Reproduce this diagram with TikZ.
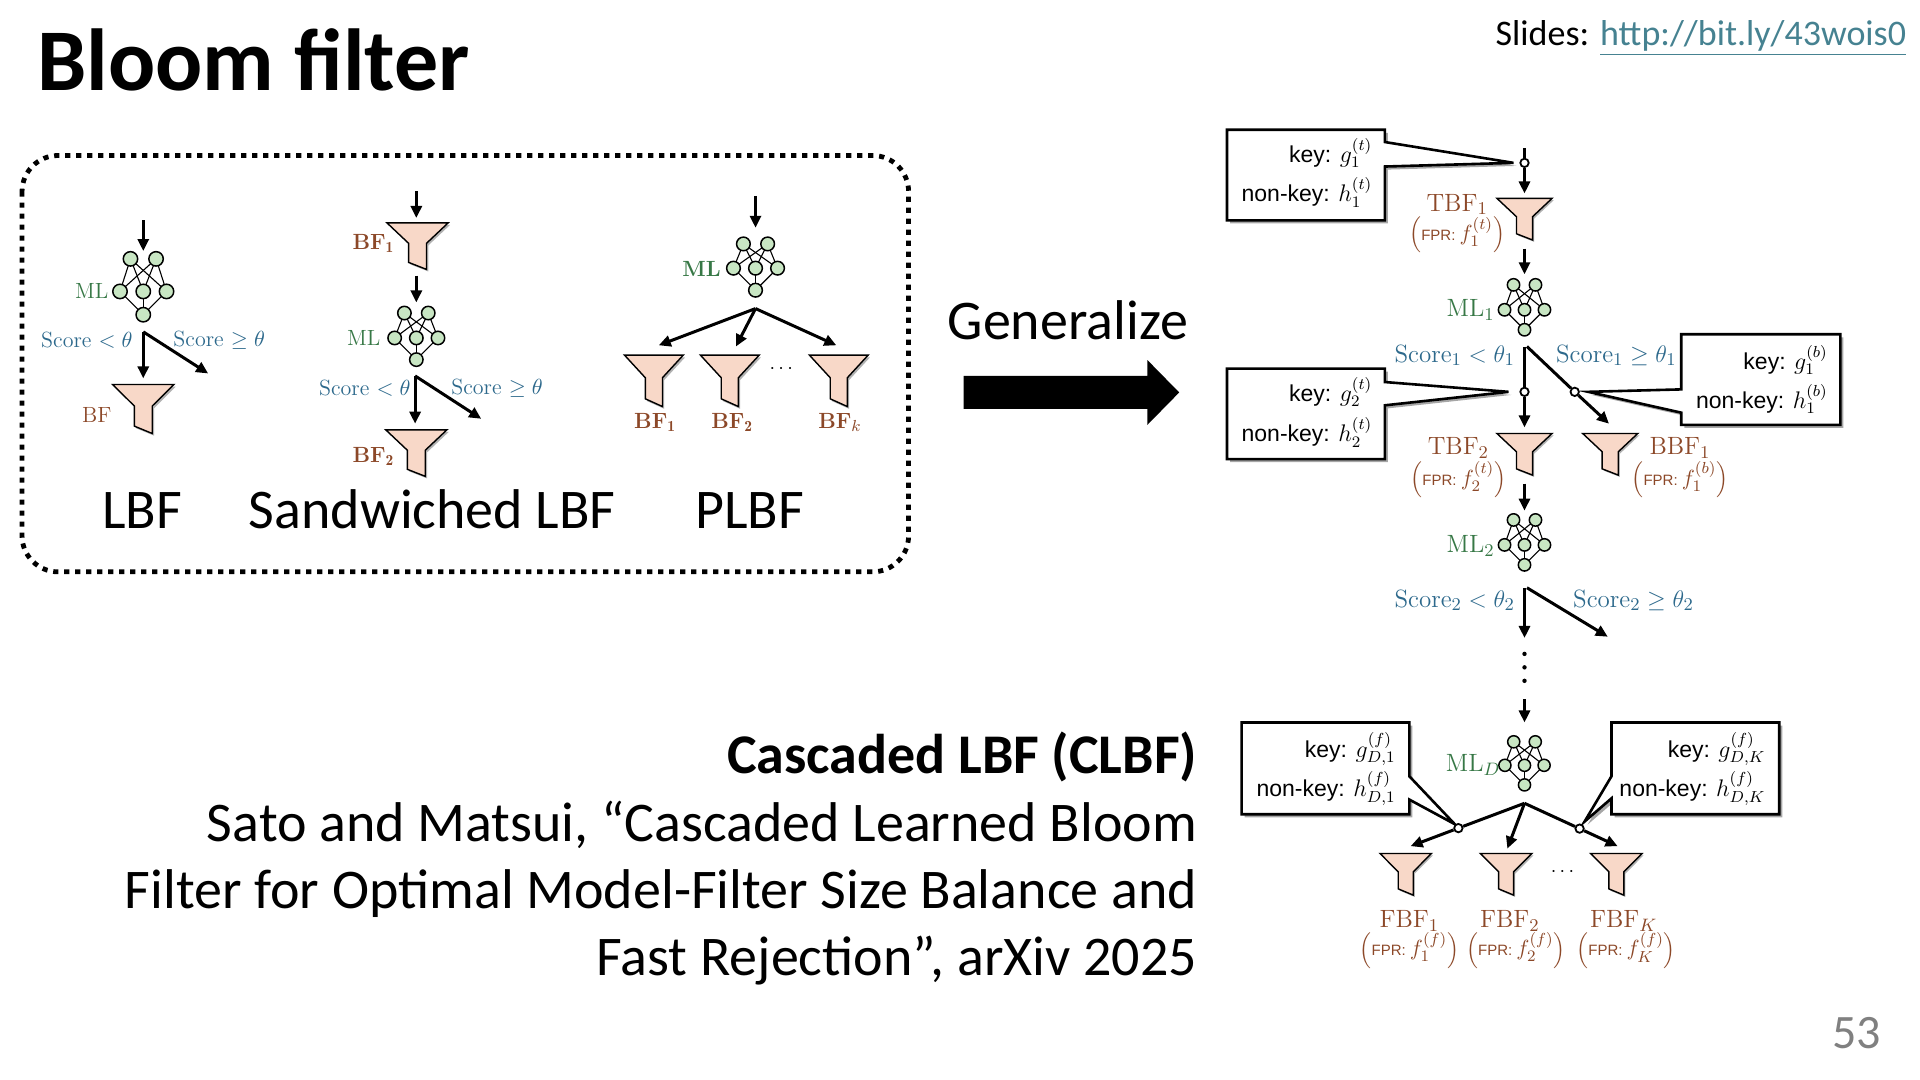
\documentclass[tikz,border=0pt]{standalone}
\usepackage{fontspec}
\newfontfamily\slidefont{Carlito}
\newfontfamily\arialfont{Liberation Sans}
\usetikzlibrary{arrows.meta}
\definecolor{mlgreen}{RGB}{55,120,70}
\definecolor{scoreblue}{RGB}{45,105,140}
\definecolor{bfbrown}{RGB}{140,72,40}
\definecolor{funnelfill}{RGB}{248,216,200}
\definecolor{nnfill}{RGB}{200,230,195}
\definecolor{linkcol}{RGB}{70,130,145}
\definecolor{pagegray}{RGB}{128,128,128}
\newcommand\fpr[1]{$\Bigl(\mbox{\arialfont\fontsize{7.5}{8}\selectfont FPR: }#1\Bigr)$}
\newcommand\drawcallout[1]{\path[cshadow,shift={(2.5,2.5)}] #1; \path[cbox] #1;}
\begin{document}
\begin{tikzpicture}[x=0.61224pt,y=-0.61224pt,
  every node/.style={inner sep=0pt},
  line/.style={line width=1.5pt},
  arr/.style={line width=1.5pt,-{Triangle[length=6pt,width=5.5pt]}},
  nnline/.style={line width=0.55pt},
  nncirc/.style={fill=nnfill,draw=black,line width=0.75pt},
  funnelst/.style={fill=funnelfill,draw=black,line width=0.7pt,line join=miter},
  cshadow/.style={fill=black!35},
  cbox/.style={fill=white,draw=black,line width=1.3pt,line join=miter},
  pcirc/.style={circle,draw=black,fill=white,line width=0.9pt,minimum size=4.2pt},
  mllab/.style={text=mlgreen,font=\fontsize{11}{13}\selectfont},
  mllabB/.style={text=mlgreen,font=\bfseries\fontsize{11}{13}\selectfont},
  sclab/.style={text=scoreblue,font=\fontsize{11}{13}\selectfont},
  bflab/.style={text=bfbrown,font=\fontsize{11}{13}\selectfont},
  bflabB/.style={text=bfbrown,font=\bfseries\fontsize{11}{13}\selectfont},
  mlR/.style={text=mlgreen,font=\fontsize{12.5}{14}\selectfont},
  scR/.style={text=scoreblue,font=\fontsize{12.5}{14}\selectfont},
  bfR/.style={text=bfbrown,font=\fontsize{12.5}{14}\selectfont},
  fprR/.style={text=bfbrown,font=\fontsize{11}{13}\selectfont},
  ctxt/.style={anchor=east,font=\arialfont\fontsize{11.5}{13}\selectfont},
  big/.style={font=\slidefont\fontsize{28}{34}\selectfont},
  pics/nn/.style args={#1/#2}{code={
    \foreach \tx in {-0.55,0.55}{\foreach \mx in {-1,0,1}{\draw[nnline] (\tx*#1,-#2*#1) -- (\mx*#1,0);}}
    \foreach \mx in {-1,0,1}{\draw[nnline] (\mx*#1,0) -- (0,#1);}
    \foreach \tx in {-0.55,0.55}{\draw[nncirc] (\tx*#1,-#2*#1) circle[radius=0.31*#1];}
    \foreach \mx in {-1,0,1}{\draw[nncirc] (\mx*#1,0) circle[radius=0.31*#1];}
    \draw[nncirc] (0,#1) circle[radius=0.31*#1];
  }},
  pics/funnel/.style={code={
    \fill[black!30] (-23.5,1.8) -- (26.5,1.8) -- (8.8,19.4) -- (8.8,41.8) -- (-5.8,35.8) -- (-5.8,19.4) -- cycle;
    \draw[funnelst] (-25,0) -- (25,0) -- (7.3,17.6) -- (7.3,40) -- (-7.3,34) -- (-7.3,17.6) -- cycle;
  }}
]
\useasboundingbox (0,0) rectangle (1568,882);

% ---------------- slide texts ----------------
\node[anchor=base west,font=\slidefont\bfseries\fontsize{44}{53}\selectfont] (title) at (30,74) {Bloom filter};
\node[anchor=base east,font=\slidefont\fontsize{18}{22}\selectfont] (slides) at (1557,37) {Slides: {\color{linkcol}\underline{http://bit.ly/43wois0}}};
\node[anchor=base,big] (gen) at (872,277) {Generalize};
\node[anchor=base east,font=\slidefont\bfseries\fontsize{28}{34}\selectfont] (clbf) at (978,632) {Cascaded LBF (CLBF)};
\node[anchor=base east,big] (ref1) at (978,687) {Sato and Matsui, “Cascaded Learned Bloom};
\node[anchor=base east,big] (ref2) at (978,742) {Filter for Optimal Model-Filter Size Balance and};
\node[anchor=base east,big] (ref3) at (978,797) {Fast Rejection”, arXiv 2025};
\node[anchor=base,text=pagegray,font=\slidefont\fontsize{24}{28}\selectfont] (pnum) at (1516,856) {53};

% big arrow
\fill[black] (787,307) -- (937,307) -- (937,294) -- (963,320.5) -- (937,347) -- (937,334) -- (787,334) -- cycle;

% dotted frame
\draw[line width=2.4pt,dash pattern=on 2.6pt off 2.9pt,rounded corners=18pt] (18,127) rectangle (742,467);

% ---------------- LBF ----------------
\coordinate (lA) at (117,180);
\coordinate (lB) at (117,205);
\draw[arr] (lA) -- (lB);
\pic at (117,238) {nn=19/1.4};
\node[mllab] (lml) at (75,238) {ML};
\node[sclab] (ls1) at (71,278) {Score $<\theta$};
\node[sclab] (ls2) at (179,278) {Score $\geq\theta$};
\coordinate (lap) at (117,271);
\coordinate (lv) at (117,309);
\coordinate (ld) at (170,305);
\draw[arr] (lap) -- (lv);
\draw[arr] (lap) -- (ld);
\pic at (117,314) {funnel};
\node[bflab] (lbf) at (79,339) {BF};
\node[anchor=base,big] (lbft) at (116,432) {LBF};

% ---------------- Sandwiched LBF ----------------
\coordinate (sA) at (340,156);
\coordinate (sB) at (340,178);
\draw[arr] (sA) -- (sB);
\pic[yscale=0.95] at (341,182) {funnel};
\node[bflabB] (sbf1) at (305,199) {BF$_{\mathbf 1}$};
\coordinate (sC) at (340,225);
\coordinate (sD) at (340,247);
\draw[arr] (sC) -- (sD);
\pic at (340,276) {nn=17.7/1.15};
\node[mllab] (sml) at (297,276) {ML};
\node[sclab] (ss1) at (298,317) {Score $<\theta$};
\node[sclab] (ss2) at (406,317) {Score $\geq\theta$};
\coordinate (sap) at (339,307);
\coordinate (sv) at (339,346);
\coordinate (sd) at (393,342);
\draw[arr] (sap) -- (sv);
\draw[arr] (sap) -- (sd);
\pic[yscale=0.95] at (340,351) {funnel};
\node[bflabB] (sbf2) at (305,373) {BF$_{\mathbf 2}$};
\node[anchor=base,big] (sbft) at (353,432) {Sandwiched LBF};

% ---------------- PLBF ----------------
\coordinate (pA) at (617,160);
\coordinate (pB) at (617,186);
\draw[arr] (pA) -- (pB);
\pic at (617,219) {nn=18/1.1};
\node[mllabB] (pml) at (573,220) {ML};
\coordinate (pap) at (617,252);
\coordinate (p1) at (538,282);
\coordinate (p2) at (601,283);
\coordinate (p3) at (683,282);
\draw[arr] (pap) -- (p1);
\draw[arr] (pap) -- (p2);
\draw[arr] (pap) -- (p3);
\pic[xscale=0.96,yscale=1.05] at (534,290) {funnel};
\pic[xscale=0.96,yscale=1.05] at (596,290) {funnel};
\pic[xscale=0.96,yscale=1.05] at (685,290) {funnel};
\node (pdots) at (638,301) {$\cdots$};
\node[bflabB] (pbf1) at (535,345) {BF$_{\mathbf 1}$};
\node[bflabB] (pbf2) at (598,345) {BF$_{\mathbf 2}$};
\node[bflabB] (pbfk) at (686,345) {BF$_{k}$};
\node[anchor=base,big] (plbft) at (612,432) {PLBF};

% ---------------- CLBF diagram ----------------
% callouts
\drawcallout{(1002,106) -- (1131,106) -- (1131,116) -- (1236,133) -- (1131,136) -- (1131,180) -- (1002,180) -- cycle}
\node[ctxt] (k1) at (1121,125) {key: $g_1^{(t)}$};
\node[ctxt] (n1) at (1121,157) {non-key: $h_1^{(t)}$};
\drawcallout{(1002,301) -- (1131,301) -- (1131,312) -- (1232,320) -- (1131,331) -- (1131,375) -- (1002,375) -- cycle}
\node[ctxt] (k2) at (1121,320) {key: $g_2^{(t)}$};
\node[ctxt] (n2) at (1121,353) {non-key: $h_2^{(t)}$};
\drawcallout{(1373,273) -- (1503,273) -- (1503,347) -- (1373,347) -- (1373,337) -- (1297,320) -- (1373,318) -- cycle}
\node[ctxt] (k3) at (1493,294) {key: $g_1^{(b)}$};
\node[ctxt] (n3) at (1493,326) {non-key: $h_1^{(b)}$};
\drawcallout{(1014,590) -- (1151,590) -- (1151,634) -- (1188,673) -- (1151,653) -- (1151,665) -- (1014,665) -- cycle}
\node[ctxt] (k4) at (1140,612) {key: $g_{D,1}^{(f)}$};
\node[ctxt] (n4) at (1140,644) {non-key: $h_{D,1}^{(f)}$};
\drawcallout{(1316,590) -- (1453,590) -- (1453,665) -- (1316,665) -- (1316,652) -- (1294,671) -- (1316,634) -- cycle}
\node[ctxt] (k5) at (1442,612) {key: $g_{D,K}^{(f)}$};
\node[ctxt] (n5) at (1442,644) {non-key: $h_{D,K}^{(f)}$};

% stage 1
\coordinate (rin) at (1245,121);
\node[pcirc] (pc1) at (1245,133) {};
\coordinate (rt1) at (1245,158);
\draw[line] (rin) -- (pc1);
\draw[arr] (pc1) -- (rt1);
\pic[xscale=0.9,yscale=0.85] at (1245,162) {funnel};
\node[bfR] (tbf1) at (1190,167) {TBF$_1$};
\node[fprR] (fpr1) at (1190,192) {\fpr{f_1^{(t)}}};
\coordinate (r2a) at (1245,203);
\coordinate (r2b) at (1245,224);
\draw[arr] (r2a) -- (r2b);
\pic at (1245,253) {nn=16.3/1.25};
\node[mlR] (ml1) at (1201,253) {ML$_1$};
\node[scR] (sc1a) at (1188,290) {Score$_1<\theta_1$};
\node[scR] (sc1b) at (1320,290) {Score$_1\geq\theta_1$};
\coordinate (ap1) at (1245,283);
\coordinate (ap1b) at (1247,283);
\node[pcirc] (pc2) at (1245,320) {};
\node[pcirc] (pc3) at (1286,320) {};
\coordinate (v1) at (1245,349);
\coordinate (d1) at (1314,346);
\draw[line] (ap1) -- (pc2);
\draw[arr] (pc2) -- (v1);
\draw[line] (ap1b) -- (pc3);
\draw[arr] (pc3) -- (d1);
\pic[xscale=0.9,yscale=0.85] at (1245,354) {funnel};
\pic[xscale=0.9,yscale=0.85] at (1315,354) {funnel};
\node[bfR] (tbf2) at (1191,366) {TBF$_2$};
\node[fprR] (fpr2) at (1191,392) {\fpr{f_2^{(t)}}};
\node[bfR] (bbf1) at (1372,366) {BBF$_1$};
\node[fprR] (fpr3) at (1372,392) {\fpr{f_1^{(b)}}};
% stage 2
\coordinate (r3a) at (1245,395);
\coordinate (r3b) at (1245,417);
\draw[arr] (r3a) -- (r3b);
\pic at (1245,445) {nn=16.3/1.25};
\node[mlR] (ml2) at (1201,446) {ML$_2$};
\node[scR] (sc2a) at (1188,490) {Score$_2<\theta_2$};
\node[scR] (sc2b) at (1334,490) {Score$_2\geq\theta_2$};
\coordinate (ap2) at (1245,480);
\coordinate (ap2b) at (1247,480);
\coordinate (v2) at (1245,521);
\coordinate (d2) at (1313,520);
\draw[arr] (ap2) -- (v2);
\draw[arr] (ap2b) -- (d2);
\foreach \yy [count=\i] in {534,545,556} \fill (1245,\yy) circle[radius=1.8];
\coordinate (r4a) at (1245,571);
\coordinate (r4b) at (1245,590);
\draw[arr] (r4a) -- (r4b);
% final stage
\pic at (1245,625) {nn=16/1.2};
\node[mlR] (mld) at (1203,625) {ML$_D$};
\coordinate (ap3) at (1245,656);
\node[pcirc] (pc4) at (1191,676.3) {};
\node[pcirc] (pc5) at (1290,676.7) {};
\coordinate (f1t) at (1152,691);
\coordinate (f2t) at (1231,693);
\coordinate (f3t) at (1321,691);
\draw[line] (ap3) -- (pc4);
\draw[arr] (pc4) -- (f1t);
\draw[arr] (ap3) -- (f2t);
\draw[line] (ap3) -- (pc5);
\draw[arr] (pc5) -- (f3t);
\pic[xscale=0.84,yscale=0.85] at (1148,697) {funnel};
\pic[xscale=0.84,yscale=0.85] at (1230,697) {funnel};
\pic[xscale=0.84,yscale=0.85] at (1320,697) {funnel};
\node (fdots) at (1276,712) {$\cdots$};
\node[bfR] (fbf1) at (1151,752) {FBF$_1$};
\node[bfR] (fbf2) at (1233,752) {FBF$_2$};
\node[bfR] (fbfk) at (1326,752) {FBF$_K$};
\node[fprR] (fp1) at (1151,776) {\fpr{f_1^{(f)}}};
\node[fprR] (fp2) at (1238,776) {\fpr{f_2^{(f)}}};
\node[fprR] (fp3) at (1328,776) {\fpr{f_K^{(f)}}};
\end{tikzpicture}
\end{document}
